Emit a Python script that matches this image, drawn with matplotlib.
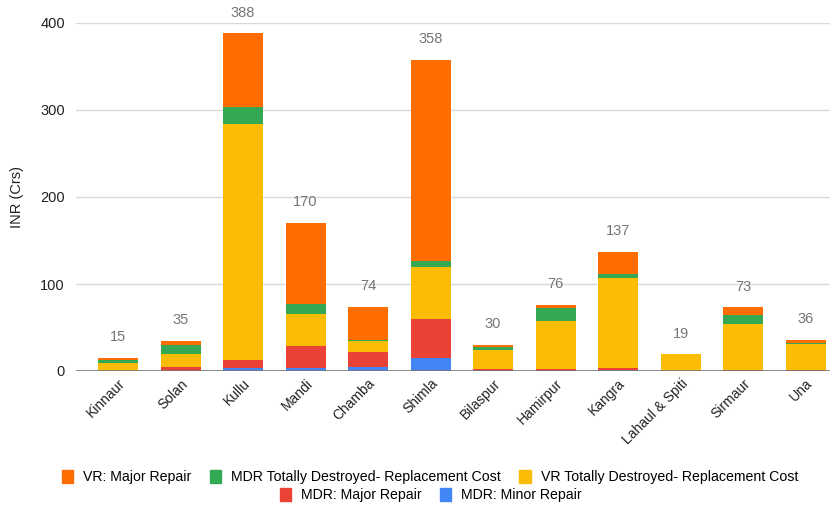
import matplotlib
matplotlib.use("Agg")
import matplotlib.pyplot as plt
import numpy as np
from matplotlib.patches import Patch

plt.rcParams['font.family'] = ['Liberation Sans', 'DejaVu Sans']

districts = ["Kinnaur", "Solan", "Kullu", "Mandi", "Chamba", "Shimla",
             "Bilaspur", "Hamirpur", "Kangra", "Lahaul & Spiti", "Sirmaur", "Una"]

# INR crore, stacked bottom to top
mdr_minor_repair = [0, 0, 4, 4, 5, 15, 0, 0, 1, 0, 0, 0]
mdr_major_repair = [0.5, 5, 9, 25, 17, 45, 2, 2.5, 3, 0, 1, 1]
vr_totally_destroyed = [9, 14, 271, 36, 12, 59, 22, 55, 103, 19, 53, 30]
mdr_totally_destroyed = [3, 10.5, 20, 12, 2, 8, 4, 14.5, 4.5, 0, 10.5, 1.5]
vr_major_repair = [2.5, 5.5, 84, 93, 38, 231, 2, 4, 25.5, 0, 8.5, 3.5]

series = [
    ("MDR: Minor Repair", mdr_minor_repair, "#4285F4"),
    ("MDR: Major Repair", mdr_major_repair, "#EA4335"),
    ("VR Totally Destroyed- Replacement Cost", vr_totally_destroyed, "#FBBC04"),
    ("MDR Totally Destroyed- Replacement Cost", mdr_totally_destroyed, "#34A853"),
    ("VR: Major Repair", vr_major_repair, "#FF6D01"),
]

W, H = 835, 508
fig = plt.figure(figsize=(W / 100, H / 100), dpi=100)
ax = fig.add_axes([76 / W, (H - 371) / H, (830 - 76) / W, (371 - 23) / H])

x = np.arange(len(districts))
bottom = np.zeros(len(districts))
for name, vals, color in series:
    v = np.array(vals, dtype=float)
    ax.bar(x, v, bottom=bottom, width=0.64, color=color, edgecolor="none",
           label=name, zorder=3)
    bottom += v

for xi, tot in zip(x, bottom):
    ax.annotate(f"{tot:.0f}", (xi, tot), xytext=(0, 15), textcoords="offset points",
                ha="center", va="center", fontsize=10.5, color="#757575",
                annotation_clip=False, zorder=4)

ax.set_xlim(-0.672, 11.39)
ax.set_ylim(0, 400)
ax.set_yticks([0, 100, 200, 300, 400])
ax.yaxis.grid(True, color="#d9d9d9", linewidth=1, zorder=0)
ax.axhline(0, color="#777777", linewidth=1.2, zorder=5)
for s in ax.spines.values():
    s.set_visible(False)
ax.tick_params(axis="y", length=0, pad=8, labelsize=10.5, labelcolor="#222222")
ax.tick_params(axis="x", length=0, pad=4, labelsize=10, labelcolor="#222222")
ax.set_xticks(x)
ax.set_xticklabels(districts, rotation=45, ha="right", rotation_mode="anchor")
ax.set_ylabel("INR (Crs)", fontsize=10.5, color="#222222", labelpad=12)

colors = {name: color for name, _, color in series}
row1 = ["VR: Major Repair", "MDR Totally Destroyed- Replacement Cost",
        "VR Totally Destroyed- Replacement Cost"]
row2 = ["MDR: Major Repair", "MDR: Minor Repair"]
common = dict(frameon=False, fontsize=10.2, handlelength=0.8, handleheight=1.0,
              handletextpad=0.7, columnspacing=1.3, borderpad=0, borderaxespad=0)
leg1 = fig.legend([Patch(color=colors[n]) for n in row1], row1, ncol=3,
                  loc="center", bbox_to_anchor=(0.515, (H - 477) / H), **common)
leg2 = fig.legend([Patch(color=colors[n]) for n in row2], row2, ncol=2,
                  loc="center", bbox_to_anchor=(0.516, (H - 495) / H), **common)

fig.savefig("out.png", dpi=100)
